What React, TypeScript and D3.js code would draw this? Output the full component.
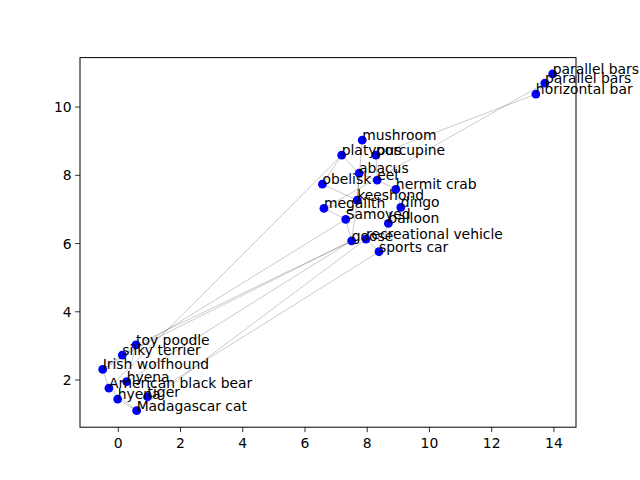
import React from "react";
import * as d3 from "d3";

const labels = [
  "parallel bars", "parallel bars", "horizontal bar", "mushroom", "platypus", "porcupine",
  "abacus", "eel", "obelisk", "hermit crab", "keeshond", "megalith", "dingo", "Samoyed",
  "balloon", "goose", "recreational vehicle", "sports car", "toy poodle", "silky terrier",
  "Irish wolfhound", "hyena", "American black bear", "hyena", "tiger", "Madagascar cat",
];
const xs = [13.96, 13.71, 13.42, 7.84, 7.18, 8.28, 7.74, 8.32, 6.56, 8.92, 7.68, 6.61, 9.08, 7.31,
  8.68, 7.5, 7.96, 8.38, 0.57, 0.13, -0.5, 0.27, -0.3, -0.02, 0.94, 0.59];
const ys = [10.97, 10.7, 10.38, 9.03, 8.59, 8.59, 8.06, 7.86, 7.74, 7.59, 7.27, 7.03, 7.06, 6.71,
  6.59, 6.08, 6.13, 5.76, 3.03, 2.73, 2.31, 1.95, 1.76, 1.44, 1.51, 1.1];
const edgeSources = [0, 1, 1, 2, 3, 10, 4, 4, 6, 7, 8, 11, 13, 9, 12, 14, 6, 5, 15, 16, 11,
  22, 18, 19, 20, 21, 25, 24, 18, 19, 20, 22, 21, 23];
const edgeTargets = [1, 2, 11, 5, 10, 15, 6, 8, 7, 9, 10, 13, 15, 12, 14, 17, 10, 7, 16, 17, 10,
  4, 15, 15, 13, 15, 16, 17, 19, 20, 22, 25, 18, 25];
const xTicks = [0, 2, 4, 6, 8, 10, 12, 14];
const yTicks = [2, 4, 6, 8, 10];

const W = 640, H = 480;
const L = 80, R = 576, T = 57.6, B = 427.2;

export default function App() {
  const x = d3.scaleLinear().domain([-1.23, 14.71]).range([L, R]);
  const y = d3.scaleLinear().domain([0.617, 11.45]).range([B, T]);
  const font = "DejaVu Sans, sans-serif";
  return (
    <svg width={W} height={H} style={{ position: "absolute", left: 0, top: 0, background: "#fff" }}
      fontFamily={font}>
      <g>
        {edgeSources.map((s, i) => {
          const t = edgeTargets[i];
          return (
            <line key={i} x1={x(xs[s])} y1={y(ys[s])} x2={x(xs[t])} y2={y(ys[t])}
              stroke="#000" strokeOpacity={0.3} strokeWidth={0.7} />
          );
        })}
      </g>
      <g>
        {xs.map((v, i) => (
          <circle key={i} cx={x(v)} cy={y(ys[i])} r={4.4} fill="#0000ff" />
        ))}
      </g>
      <g fontSize={13.9} fill="#000">
        {labels.map((s, i) => (
          <text key={i} x={x(xs[i])} y={y(ys[i])}>{s}</text>
        ))}
      </g>
      <rect x={L} y={T} width={R - L} height={B - T} fill="none" stroke="#000" strokeWidth={1} />
      <g fontSize={13.9} fill="#000">
        {xTicks.map((v) => (
          <g key={v}>
            <line x1={x(v)} x2={x(v)} y1={B} y2={B + 4.9} stroke="#000" strokeWidth={0.8} />
            <text x={x(v)} y={B + 20.5} textAnchor="middle">{v}</text>
          </g>
        ))}
        {yTicks.map((v) => (
          <g key={v}>
            <line x1={L - 4.9} x2={L} y1={y(v)} y2={y(v)} stroke="#000" strokeWidth={0.8} />
            <text x={L - 8.4} y={y(v) + 5} textAnchor="end">{v}</text>
          </g>
        ))}
      </g>
    </svg>
  );
}
